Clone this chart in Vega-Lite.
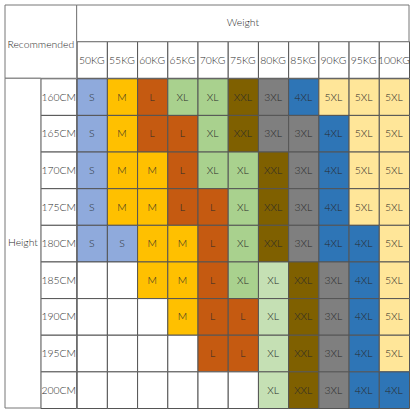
{
  "$schema": "https://vega.github.io/schema/vega-lite/v6.json",
  "width": 416,
  "height": 416,
  "autosize": {"type": "fit", "contains": "padding"},
  "padding": {"left": 4, "top": 4, "right": 6, "bottom": 7},
  "background": "white",
  "config": {"view": {"stroke": null}, "text": {"font": "Lato", "fontSize": 10.4, "fontWeight": 300, "color": "#2a2a2a"}},
  "datasets": {
    "cells": [
      {"height": 160, "weight": 50, "size": "S"}, {"height": 160, "weight": 55, "size": "M"}, {"height": 160, "weight": 60, "size": "L"}, {"height": 160, "weight": 65, "size": "XL"}, {"height": 160, "weight": 70, "size": "XL"}, {"height": 160, "weight": 75, "size": "XXL"}, {"height": 160, "weight": 80, "size": "3XL"}, {"height": 160, "weight": 85, "size": "4XL"}, {"height": 160, "weight": 90, "size": "5XL"}, {"height": 160, "weight": 95, "size": "5XL"}, {"height": 160, "weight": 100, "size": "5XL"},
      {"height": 165, "weight": 50, "size": "S"}, {"height": 165, "weight": 55, "size": "M"}, {"height": 165, "weight": 60, "size": "L"}, {"height": 165, "weight": 65, "size": "L"}, {"height": 165, "weight": 70, "size": "XL"}, {"height": 165, "weight": 75, "size": "XXL"}, {"height": 165, "weight": 80, "size": "3XL"}, {"height": 165, "weight": 85, "size": "3XL"}, {"height": 165, "weight": 90, "size": "4XL"}, {"height": 165, "weight": 95, "size": "5XL"}, {"height": 165, "weight": 100, "size": "5XL"},
      {"height": 170, "weight": 50, "size": "S"}, {"height": 170, "weight": 55, "size": "M"}, {"height": 170, "weight": 60, "size": "M"}, {"height": 170, "weight": 65, "size": "L"}, {"height": 170, "weight": 70, "size": "XL"}, {"height": 170, "weight": 75, "size": "XL"}, {"height": 170, "weight": 80, "size": "XXL"}, {"height": 170, "weight": 85, "size": "3XL"}, {"height": 170, "weight": 90, "size": "4XL"}, {"height": 170, "weight": 95, "size": "5XL"}, {"height": 170, "weight": 100, "size": "5XL"},
      {"height": 175, "weight": 50, "size": "S"}, {"height": 175, "weight": 55, "size": "M"}, {"height": 175, "weight": 60, "size": "M"}, {"height": 175, "weight": 65, "size": "L"}, {"height": 175, "weight": 70, "size": "L"}, {"height": 175, "weight": 75, "size": "XL"}, {"height": 175, "weight": 80, "size": "XXL"}, {"height": 175, "weight": 85, "size": "3XL"}, {"height": 175, "weight": 90, "size": "4XL"}, {"height": 175, "weight": 95, "size": "5XL"}, {"height": 175, "weight": 100, "size": "5XL"},
      {"height": 180, "weight": 50, "size": "S"}, {"height": 180, "weight": 55, "size": "S"}, {"height": 180, "weight": 60, "size": "M"}, {"height": 180, "weight": 65, "size": "M"}, {"height": 180, "weight": 70, "size": "L"}, {"height": 180, "weight": 75, "size": "XL"}, {"height": 180, "weight": 80, "size": "XXL"}, {"height": 180, "weight": 85, "size": "3XL"}, {"height": 180, "weight": 90, "size": "4XL"}, {"height": 180, "weight": 95, "size": "4XL"}, {"height": 180, "weight": 100, "size": "5XL"},
      {"height": 185, "weight": 50, "size": ""}, {"height": 185, "weight": 55, "size": ""}, {"height": 185, "weight": 60, "size": "M"}, {"height": 185, "weight": 65, "size": "M"}, {"height": 185, "weight": 70, "size": "L"}, {"height": 185, "weight": 75, "size": "XL"}, {"height": 185, "weight": 80, "size": "XL"}, {"height": 185, "weight": 85, "size": "XXL"}, {"height": 185, "weight": 90, "size": "3XL"}, {"height": 185, "weight": 95, "size": "4XL"}, {"height": 185, "weight": 100, "size": "5XL"},
      {"height": 190, "weight": 50, "size": ""}, {"height": 190, "weight": 55, "size": ""}, {"height": 190, "weight": 60, "size": ""}, {"height": 190, "weight": 65, "size": "M"}, {"height": 190, "weight": 70, "size": "L"}, {"height": 190, "weight": 75, "size": "L"}, {"height": 190, "weight": 80, "size": "XL"}, {"height": 190, "weight": 85, "size": "XXL"}, {"height": 190, "weight": 90, "size": "3XL"}, {"height": 190, "weight": 95, "size": "4XL"}, {"height": 190, "weight": 100, "size": "5XL"},
      {"height": 195, "weight": 50, "size": ""}, {"height": 195, "weight": 55, "size": ""}, {"height": 195, "weight": 60, "size": ""}, {"height": 195, "weight": 65, "size": ""}, {"height": 195, "weight": 70, "size": "L"}, {"height": 195, "weight": 75, "size": "L"}, {"height": 195, "weight": 80, "size": "XL"}, {"height": 195, "weight": 85, "size": "XXL"}, {"height": 195, "weight": 90, "size": "3XL"}, {"height": 195, "weight": 95, "size": "4XL"}, {"height": 195, "weight": 100, "size": "5XL"},
      {"height": 200, "weight": 50, "size": ""}, {"height": 200, "weight": 55, "size": ""}, {"height": 200, "weight": 60, "size": ""}, {"height": 200, "weight": 65, "size": ""}, {"height": 200, "weight": 70, "size": ""}, {"height": 200, "weight": 75, "size": ""}, {"height": 200, "weight": 80, "size": "XL"}, {"height": 200, "weight": 85, "size": "XXL"}, {"height": 200, "weight": 90, "size": "3XL"}, {"height": 200, "weight": 95, "size": "4XL"}, {"height": 200, "weight": 100, "size": "4XL"}
    ],
    "weights": [
      {"weight": 50, "label": "50KG"}, {"weight": 55, "label": "55KG"}, {"weight": 60, "label": "60KG"}, {"weight": 65, "label": "65KG"}, {"weight": 70, "label": "70KG"}, {"weight": 75, "label": "75KG"}, {"weight": 80, "label": "80KG"}, {"weight": 85, "label": "85KG"}, {"weight": 90, "label": "90KG"}, {"weight": 95, "label": "95KG"}, {"weight": 100, "label": "100KG"}
    ],
    "heights": [
      {"height": 160, "label": "160CM"}, {"height": 165, "label": "165CM"}, {"height": 170, "label": "170CM"}, {"height": 175, "label": "175CM"}, {"height": 180, "label": "180CM"}, {"height": 185, "label": "185CM"}, {"height": 190, "label": "190CM"}, {"height": 195, "label": "195CM"}, {"height": 200, "label": "200CM"}
    ],
    "one": [{}]
  },
  "layer": [
    {
      "data": {"name": "cells"},
      "mark": {"type": "rect", "stroke": "#555555", "strokeWidth": 1, "binSpacing": 0},
      "encoding": {
        "x": {"field": "weight", "type": "quantitative", "bin": {"step": 5, "extent": [47.5, 102.5], "nice": false}, "scale": {"domain": [35.64, 102.5], "nice": false, "zero": false}, "axis": null},
        "y": {"field": "height", "type": "quantitative", "bin": {"step": 5, "extent": [157.5, 202.5], "nice": false}, "scale": {"domain": [147.5, 202.5], "reverse": true, "nice": false, "zero": false}, "axis": null},
        "fill": {
          "condition": {"test": "datum.size == 'XL' && datum.weight == 80", "value": "#c5e0b4"},
          "field": "size", "type": "nominal", "legend": null,
          "scale": {"domain": ["", "S", "M", "L", "XL", "XXL", "3XL", "4XL", "5XL"], "range": ["#ffffff", "#8faadc", "#ffc000", "#c55a11", "#a9d18e", "#7f6000", "#7f7f7f", "#2e75b6", "#ffe699"]}
        }
      }
    },
    {
      "data": {"name": "cells"},
      "mark": {"type": "text", "dy": 1},
      "encoding": {
        "x": {"field": "weight", "type": "quantitative"},
        "y": {"field": "height", "type": "quantitative"},
        "text": {"field": "size"}
      }
    },
    {
      "data": {"name": "weights"},
      "mark": {"type": "rect", "stroke": "#555555", "strokeWidth": 1, "fill": "white", "binSpacing": 0},
      "encoding": {
        "x": {"field": "weight", "type": "quantitative", "bin": {"step": 5, "extent": [47.5, 102.5], "nice": false}},
        "y": {"datum": 152.5, "type": "quantitative"},
        "y2": {"datum": 157.5}
      }
    },
    {
      "data": {"name": "weights"},
      "mark": {"type": "text", "dy": 1},
      "encoding": {
        "x": {"field": "weight", "type": "quantitative"},
        "y": {"datum": 155, "type": "quantitative"},
        "text": {"field": "label"}
      }
    },
    {
      "data": {"name": "heights"},
      "mark": {"type": "rect", "stroke": "#555555", "strokeWidth": 1, "fill": "white", "binSpacing": 0},
      "encoding": {
        "x": {"datum": 41.57, "type": "quantitative"},
        "x2": {"datum": 47.5},
        "y": {"field": "height", "type": "quantitative", "bin": {"step": 5, "extent": [157.5, 202.5], "nice": false}}
      }
    },
    {
      "data": {"name": "heights"},
      "mark": {"type": "text", "dy": 1},
      "encoding": {
        "x": {"datum": 44.535, "type": "quantitative"},
        "y": {"field": "height", "type": "quantitative"},
        "text": {"field": "label"}
      }
    },
    {
      "data": {"name": "one"},
      "mark": {"type": "rect", "stroke": "#777777", "strokeWidth": 1, "fill": "white"},
      "encoding": {
        "x": {"datum": 35.64, "type": "quantitative"},
        "x2": {"datum": 47.5},
        "y": {"datum": 147.5, "type": "quantitative"},
        "y2": {"datum": 157.5}
      }
    },
    {
      "data": {"name": "one"},
      "mark": {"type": "text", "text": "Recommended", "dy": 3},
      "encoding": {
        "x": {"datum": 41.57, "type": "quantitative"},
        "y": {"datum": 152.5, "type": "quantitative"}
      }
    },
    {
      "data": {"name": "one"},
      "mark": {"type": "rect", "stroke": "#777777", "strokeWidth": 1, "fill": "white"},
      "encoding": {
        "x": {"datum": 47.5, "type": "quantitative"},
        "x2": {"datum": 102.5},
        "y": {"datum": 147.5, "type": "quantitative"},
        "y2": {"datum": 152.5}
      }
    },
    {
      "data": {"name": "one"},
      "mark": {"type": "text", "text": "Weight"},
      "encoding": {
        "x": {"datum": 75, "type": "quantitative"},
        "y": {"datum": 150, "type": "quantitative"}
      }
    },
    {
      "data": {"name": "one"},
      "mark": {"type": "rect", "stroke": "#777777", "strokeWidth": 1, "fill": "white"},
      "encoding": {
        "x": {"datum": 35.64, "type": "quantitative"},
        "x2": {"datum": 41.57},
        "y": {"datum": 157.5, "type": "quantitative"},
        "y2": {"datum": 202.5}
      }
    },
    {
      "data": {"name": "one"},
      "mark": {"type": "text", "text": "Height"},
      "encoding": {
        "x": {"datum": 38.605, "type": "quantitative"},
        "y": {"datum": 180, "type": "quantitative"}
      }
    }
  ]
}
